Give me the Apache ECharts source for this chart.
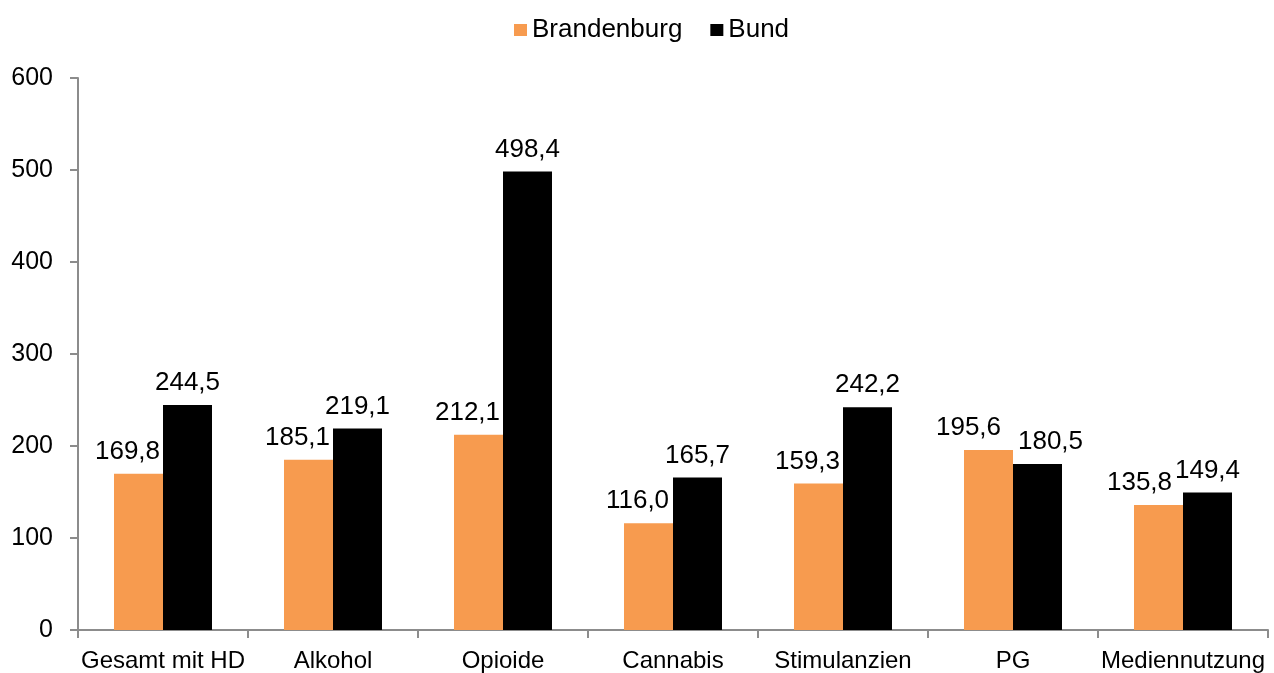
<!DOCTYPE html>
<html>
<head>
<meta charset="utf-8">
<script src="https://cdn.jsdelivr.net/npm/echarts@6/dist/echarts.min.js"></script>
<style>
html, body { margin: 0; padding: 0; background: #fff; }
#chart { width: 1274px; height: 673px; }
</style>
</head>
<body>
<div id="chart"></div>
<script>
var categories = ['Gesamt mit HD', 'Alkohol', 'Opioide', 'Cannabis', 'Stimulanzien', 'PG', 'Mediennutzung'];
var brandenburg = [169.8, 185.1, 212.1, 116.0, 159.3, 195.6, 135.8];
var bund = [244.5, 219.1, 498.4, 165.7, 242.2, 180.5, 149.4];
var yTicks = [0, 100, 200, 300, 400, 500, 600];

// horizontale Verschiebung der Beschriftungen (wie im Original von Hand verschoben)
var shiftBrb = [-11, -11, -11, -11, -11, -20, -19];
var shiftBund = [0, 0, 0, 0, 0, 13, 0];

var FONT = '"Liberation Sans", Arial, sans-serif';

function fmt(p) { // Komma als Dezimaltrenner
	return p.value.toFixed(1).replace('.', ',');
}

function withOffsets(values, shifts) {
	return values.map(function (v, i) {
		return { value: v, label: { offset: [shifts[i], 0] } };
	});
}

var myChart = echarts.init(document.getElementById('chart'));

var option = {
	animation: false,
	textStyle: { fontFamily: FONT },
	legend: {
		top: 12,
		left: 509,
		itemWidth: 13,
		itemHeight: 12,
		itemGap: 28,
		icon: 'rect',
		textStyle: { fontSize: 26, color: '#000', fontFamily: FONT },
		data: ['Brandenburg', 'Bund']
	},
	grid: { left: 78, right: 6, top: 78, bottom: 39, containLabel: false },
	xAxis: {
		type: 'category',
		data: categories,
		axisLine: { lineStyle: { color: '#8c8c8c', width: 2 } },
		axisTick: { show: true, length: 8, lineStyle: { color: '#8c8c8c', width: 2 } },
		axisLabel: { color: '#000', fontSize: 24, fontFamily: FONT, margin: 19, interval: 0 }
	},
	yAxis: {
		type: 'value',
		min: yTicks[0],
		max: yTicks[yTicks.length - 1],
		interval: 100,
		axisLine: { show: true, lineStyle: { color: '#8c8c8c', width: 2 } },
		axisTick: { show: true, length: 8, lineStyle: { color: '#8c8c8c', width: 2 } },
		splitLine: { show: false },
		axisLabel: { color: '#000', fontSize: 25, fontFamily: FONT, margin: 25 }
	},
	series: [
		{
			name: 'Brandenburg',
			type: 'bar',
			data: withOffsets(brandenburg, shiftBrb),
			barWidth: 49,
			barGap: '0%',
			itemStyle: { color: '#F79B4F' },
			label: { show: true, position: 'top', distance: 9, formatter: fmt, color: '#000', fontSize: 26, fontFamily: FONT }
		},
		{
			name: 'Bund',
			type: 'bar',
			data: withOffsets(bund, shiftBund),
			barWidth: 49,
			barGap: '0%',
			itemStyle: { color: '#000000' },
			label: { show: true, position: 'top', distance: 9, formatter: fmt, color: '#000', fontSize: 26, fontFamily: FONT }
		}
	]
};

myChart.setOption(option);
</script>
</body>
</html>
